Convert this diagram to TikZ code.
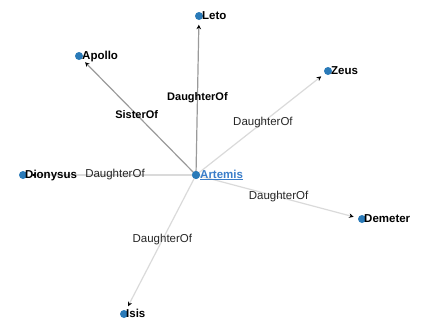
\documentclass[tikz,border=0pt]{standalone}
\usepackage{fontspec}
\setmainfont{Liberation Sans}
\usetikzlibrary{arrows.meta}
\definecolor{dotblue}{HTML}{2A7AB8}
\definecolor{linkblue}{HTML}{3A7DC9}
\definecolor{darkedge}{HTML}{9A9A9A}
\definecolor{lightedge}{HTML}{DADADA}
\tikzset{
  dot/.style={circle,fill=dotblue,inner sep=0pt,minimum size=8pt},
  nlabel/.style={anchor=base west,inner sep=0pt,font=\fontsize{11.5}{12}\selectfont\bfseries},
  rel/.style={-{Stealth[length=4.5pt,width=4.5pt,color=black]},shorten >=4.5pt,line width=1.2pt},
  relhi/.style={rel,draw=darkedge},
  rello/.style={rel,draw=lightedge},
  elab/.style={font=\fontsize{11.5}{12}\selectfont,text=black!85,inner sep=0pt},
  elabhi/.style={font=\fontsize{11}{12}\selectfont\bfseries,text=black,inner sep=0pt}
}
\begin{document}
\begin{tikzpicture}[x=1pt,y=-1pt]
\useasboundingbox (0,0) rectangle (422,322);
\node[dot] (artemis) at (196,175) {};
\node[dot] (leto) at (199,16) {};
\node[dot] (apollo) at (79,56) {};
\node[dot] (zeus) at (328,71) {};
\node[dot] (dionysus) at (23,175) {};
\node[dot] (demeter) at (362,219) {};
\node[dot] (isis) at (124,314) {};

\draw[relhi] (artemis.center) -- (leto) node[elabhi,pos=0.5] (l1) {DaughterOf};
\draw[relhi] (artemis.center) -- (apollo) node[elabhi,pos=0.52] (l2) {SisterOf};
\draw[rello] (artemis.center) -- (zeus) node[elab,pos=0.52] (l3) {DaughterOf};
\draw[rello] (artemis.center) -- (dionysus) node[elab,pos=0.48] (l4) {DaughterOf};
\draw[rello] (artemis.center) -- (demeter) node[elab,pos=0.51] (l5) {DaughterOf};
\draw[rello] (artemis.center) -- (isis) node[elab,pos=0.48] (l6) {DaughterOf};

\node[dot] at (artemis) {};
\node[nlabel,text=linkblue] (tartemis) at (200,178) {\underline{Artemis}};
\node[nlabel] (tleto) at (202,19) {Leto};
\node[nlabel] (tapollo) at (82,59) {Apollo};
\node[nlabel] (tzeus) at (331,74) {Zeus};
\node[nlabel] (tdionysus) at (25,178) {Dionysus};
\node[nlabel] (tdemeter) at (364,222) {Demeter};
\node[nlabel] (tisis) at (126,317) {Isis};
\end{tikzpicture}
\end{document}
